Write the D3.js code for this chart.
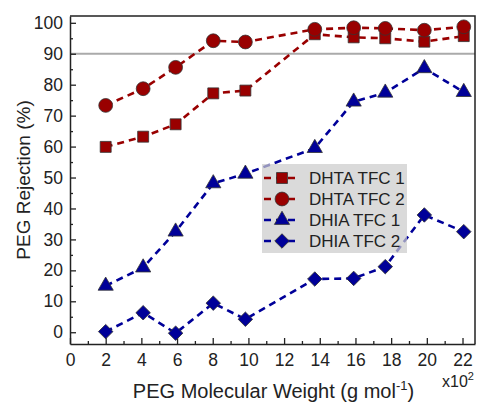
<!DOCTYPE html>
<html>
<head>
<meta charset="utf-8">
<script src="https://cdn.jsdelivr.net/npm/d3@7"></script>
<style>
  body { margin: 0; background: #fff; }
  svg { font-family: "Liberation Sans", Arial, sans-serif; }
</style>
</head>
<body>
<div id="chart"></div>
<script>
/* PEG rejection vs molecular weight */

const weights = [2, 4.1, 5.92, 8.03, 9.83, 13.72, 15.9, 17.67, 19.86, 22.07];
const dhta1 = [59.9, 63.2, 67.2, 77.2, 78.1, 96.3, 95.3, 95.0, 93.9, 95.7];
const dhta2 = [73.3, 78.7, 85.6, 94.2, 93.8, 97.9, 98.4, 98.2, 97.6, 98.7];
const dhia1 = [15.0, 20.9, 32.5, 48.1, 51.2, 59.5, 74.5, 77.4, 85.3, 77.6];
const dhia2 = [0.2, 6.3, -0.3, 9.4, 4.2, 17.2, 17.4, 21.2, 37.9, 32.5];
const seriesNames = ["DHTA TFC 1", "DHTA TFC 2", "DHIA TFC 1", "DHIA TFC 2"];
const xTicks = [0, 2, 4, 6, 8, 10, 12, 14, 16, 18, 20, 22];
const yTicks = [0, 10, 20, 30, 40, 50, 60, 70, 80, 90, 100];
const refLine = 90;

let width = 477,
  height = 403,
  margin = { top: 16, right: 2, bottom: 59, left: 70 };

const red = "#990000",
  blue = "#000099";

// diamond = square turned 45 degrees
const series = [
  { name: seriesNames[0], values: dhta1, color: red, symbol: d3.symbolSquare, size: 120, rot: 0 },
  { name: seriesNames[1], values: dhta2, color: red, symbol: d3.symbolCircle, size: 150, rot: 0 },
  { name: seriesNames[2], values: dhia1, color: blue, symbol: d3.symbolTriangle, size: 100, rot: 0 },
  { name: seriesNames[3], values: dhia2, color: blue, symbol: d3.symbolSquare, size: 105, rot: 45 },
];

const svg = d3
  .select("#chart")
  .append("svg")
  .attr("width", width)
  .attr("height", height);

let x = d3
  .scaleLinear()
  .domain([0, 22.7])
  .range([margin.left, width - margin.right]);

let y = d3
  .scaleLinear()
  .domain([-3.8, 102.2])
  .range([height - margin.bottom, margin.top]);

// reference line at 90%
svg
  .append("line")
  .attr("x1", x.range()[0])
  .attr("x2", x.range()[1])
  .attr("y1", y(refLine))
  .attr("y2", y(refLine))
  .attr("stroke", "#aaaaaa")
  .attr("stroke-width", 2);

// minor ticks
const xMinor = d3.range(1, 23, 2);
const yMinor = d3.range(5, 101, 10);

// axes, ticks pointing inward
svg
  .append("g")
  .attr("transform", `translate(0,${height - margin.bottom})`)
  .call(d3.axisBottom(x).tickValues(xTicks).tickSize(-6).tickSizeOuter(0).tickPadding(10));
svg
  .append("g")
  .attr("transform", `translate(0,${height - margin.bottom})`)
  .call(d3.axisBottom(x).tickValues(xMinor).tickSize(-3).tickSizeOuter(0).tickFormat(""))
  .call((g) => g.select(".domain").remove());

svg
  .append("g")
  .attr("transform", `translate(${margin.left},0)`)
  .call(d3.axisLeft(y).tickValues(yTicks).tickSize(-6).tickSizeOuter(0).tickPadding(7));
svg
  .append("g")
  .attr("transform", `translate(${margin.left},0)`)
  .call(d3.axisLeft(y).tickValues(yMinor).tickSize(-3).tickSizeOuter(0).tickFormat(""))
  .call((g) => g.select(".domain").remove());

svg.selectAll(".tick line").attr("stroke", "#222").attr("stroke-width", 1.3);
svg.selectAll(".domain").attr("stroke", "#222").attr("stroke-width", 1.5);
svg.selectAll(".tick text").attr("font-size", 17.5).attr("fill", "#222");

// frame top and right
svg
  .append("path")
  .attr(
    "d",
    `M${x.range()[0]},${y.range()[1]}H${x.range()[1]}V${y.range()[0]}`
  )
  .attr("fill", "none")
  .attr("stroke", "#222")
  .attr("stroke-width", 1.5);

// lines and markers
let line = d3
  .line()
  .x((d, i) => x(weights[i]))
  .y((d) => y(d));

for (let s of series) {
  let g = svg.append("g");
  g.append("path")
    .datum(s.values)
    .attr("fill", "none")
    .attr("stroke", s.color)
    .attr("stroke-width", 2.6)
    .attr("stroke-dasharray", "7,5")
    .attr("d", line);

  g.selectAll(".pt")
    .data(s.values)
    .join("path")
    .attr("class", "pt")
    .attr("transform", (d, i) => `translate(${x(weights[i])},${y(d)}) rotate(${s.rot})`)
    .attr("d", d3.symbol().type(s.symbol).size(s.size))
    .attr("fill", s.color)
    .attr("stroke", "#333")
    .attr("stroke-width", 0.8);
}

// legend
const legend = svg.append("g").attr("transform", "translate(262,164)");
legend
  .append("rect")
  .attr("width", 145)
  .attr("height", 89)
  .attr("fill", "#cccccc")
  .attr("fill-opacity", 0.72);

series.forEach((s, i) => {
  let row = legend.append("g").attr("transform", `translate(0,${14 + i * 21})`);
  row
    .append("line")
    .attr("x1", 2)
    .attr("x2", 38)
    .attr("stroke", s.color)
    .attr("stroke-width", 2.6)
    .attr("stroke-dasharray", "7,5");
  row
    .append("path")
    .attr("transform", `translate(20,0) rotate(${s.rot})`)
    .attr("d", d3.symbol().type(s.symbol).size(s.size))
    .attr("fill", s.color)
    .attr("stroke", "#333")
    .attr("stroke-width", 0.8);
  row
    .append("text")
    .attr("x", 47)
    .attr("dy", "0.36em")
    .attr("font-size", 17)
    .attr("fill", "#222")
    .text(s.name);
});

// axis labels
svg
  .append("text")
  .attr("text-anchor", "middle")
  .attr("x", (x.range()[0] + x.range()[1]) / 2 + 1)
  .attr("y", 398)
  .attr("font-size", 20)
  .attr("fill", "#222")
  .html('PEG Molecular Weight (g mol<tspan dy="-8" font-size="13">-1</tspan><tspan dy="8">)</tspan>');

svg
  .append("text")
  .attr("text-anchor", "middle")
  .attr("transform", `translate(30,${(y.range()[0] + y.range()[1]) / 2}) rotate(-90)`)
  .attr("font-size", 19)
  .attr("fill", "#222")
  .text("PEG Rejection (%)");

svg
  .append("text")
  .attr("x", 442)
  .attr("y", 387)
  .attr("font-size", 16)
  .attr("fill", "#222")
  .html('x10<tspan dy="-7" font-size="11">2</tspan>');
</script>
</body>
</html>
